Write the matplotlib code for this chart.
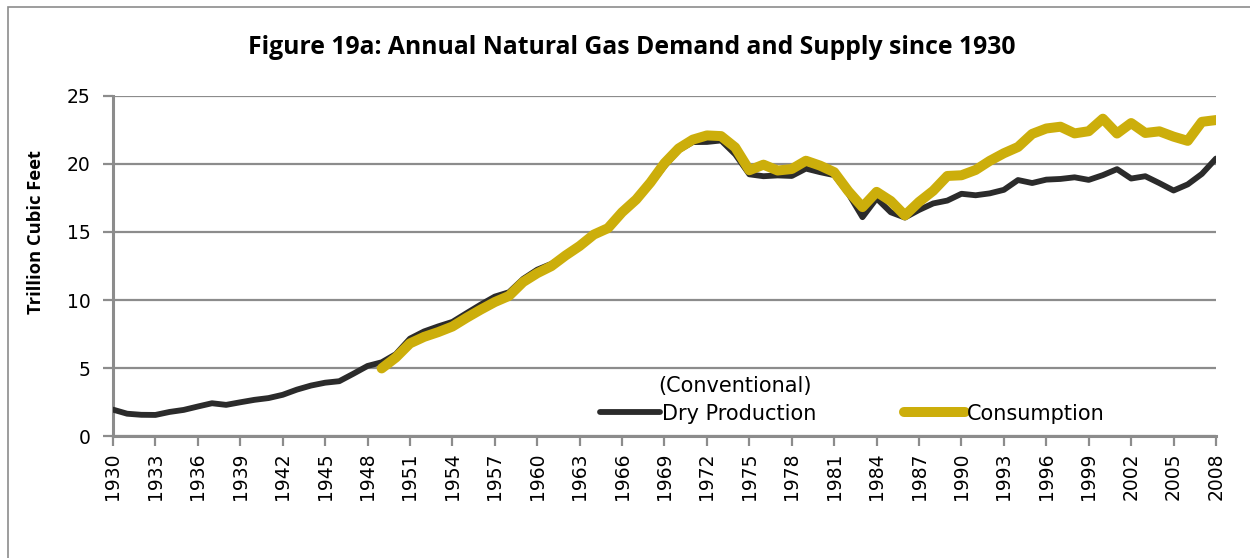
import numpy as np
import matplotlib
matplotlib.use("Agg")
import matplotlib.pyplot as plt
from matplotlib.patches import Rectangle

# Dry production (conventional), trillion cubic feet, 1930-2008
prod_years = list(range(1930, 2009))
dry_production = [
    1.94, 1.64, 1.56, 1.55, 1.77, 1.92, 2.17, 2.41, 2.29, 2.48,
    2.66, 2.79, 3.03, 3.41, 3.71, 3.92, 4.03, 4.58, 5.15, 5.42,
    6.02, 7.16, 7.69, 8.06, 8.39, 9.03, 9.66, 10.25, 10.57, 11.55,
    12.23, 12.66, 13.25, 14.08, 14.82, 15.29, 16.47, 17.39, 18.49, 19.83,
    21.01, 21.61, 21.62, 21.73, 20.71, 19.24, 19.10, 19.16, 19.12, 19.66,
    19.40, 19.18, 17.82, 16.09, 17.47, 16.45, 16.06, 16.62, 17.10, 17.31,
    17.81, 17.70, 17.84, 18.10, 18.82, 18.60, 18.85, 18.90, 19.02, 18.83,
    19.18, 19.62, 18.93, 19.10, 18.59, 18.05, 18.50, 19.27, 20.40,
]

# Consumption, trillion cubic feet, 1949-2008
cons_years = list(range(1949, 2009))
consumption = [
    4.97, 5.77, 6.81, 7.29, 7.64, 8.05, 8.69, 9.29, 9.85, 10.30,
    11.32, 11.97, 12.49, 13.27, 13.97, 14.81, 15.28, 16.45, 17.39, 18.63,
    20.06, 21.14, 21.79, 22.10, 22.05, 21.22, 19.54, 19.95, 19.52, 19.63,
    20.24, 19.88, 19.40, 18.00, 16.83, 17.95, 17.28, 16.22, 17.21, 18.03,
    19.12, 19.17, 19.56, 20.23, 20.79, 21.25, 22.21, 22.61, 22.74, 22.25,
    22.41, 23.33, 22.24, 23.01, 22.28, 22.40, 22.01, 21.70, 23.10, 23.23,
]

tick_years = list(range(1930, 2009, 3))
y_ticks = [0, 5, 10, 15, 20, 25]

DARK = "#2b2b2b"
GOLD = "#ccae0b"
GRID = "#8c8c8c"
TICK_FONT = "DejaVu Sans"

fig = plt.figure(figsize=(12.5, 5.58), dpi=100)
ax = fig.add_axes([0.0904, 0.2186, 0.8824, 0.6094])

# outer frame (open on the right/bottom like the clipped original)
fig.patches.append(Rectangle((0.0065, -0.05), 1.2, 1.037, transform=fig.transFigure,
                             fill=False, edgecolor="#8c8c8c", lw=1.2))

ax.plot(prod_years, dry_production, color=DARK, lw=4.2,
        solid_capstyle="round", solid_joinstyle="round",
        label="Dry Production", zorder=3)
ax.plot(cons_years, consumption, color=GOLD, lw=7.2,
        solid_capstyle="round", solid_joinstyle="round",
        label="Consumption", zorder=4)

ax.set_xlim(1930, 2008)
ax.set_ylim(0, 25)
ax.set_yticks(y_ticks)
ax.set_xticks(tick_years)
ax.set_xticklabels([str(y) for y in tick_years], rotation=90)
ax.yaxis.grid(True, color=GRID, lw=1.6)
ax.set_axisbelow(True)

for side in ["top", "right"]:
    ax.spines[side].set_visible(False)
for side in ["left", "bottom"]:
    ax.spines[side].set_color(GRID)
    ax.spines[side].set_linewidth(2.2)
ax.tick_params(axis="both", colors=GRID, width=1.6, length=7, labelcolor="black",
               labelsize=13.5)
ax.tick_params(axis="x", pad=5)
ax.tick_params(axis="y", pad=9)
for t in ax.get_xticklabels() + ax.get_yticklabels():
    t.set_fontfamily(TICK_FONT)

fig.text(0.029, 0.584, "Trillion Cubic Feet", rotation=90, ha="center", va="center",
         fontsize=13.2, fontweight="bold", fontfamily="Open Sans")

fig.text(0.505, 0.915, "Figure 19a: Annual Natural Gas Demand and Supply since 1930",
         ha="center", va="center", fontsize=17.8, fontweight="bold",
         fontfamily="Open Sans")

leg = ax.legend(loc="center left", bbox_to_anchor=(0.4415, 0.066), ncol=2, frameon=False,
                borderpad=0, borderaxespad=0,
                handlelength=2.9, handletextpad=0.1, columnspacing=4.2,
                prop={"family": TICK_FONT, "size": 15})
for line in leg.get_lines():
    line.set_solid_capstyle("round")
ax.text(0.564, 0.147, "(Conventional)", transform=ax.transAxes, ha="center",
        va="center", fontsize=15, fontfamily=TICK_FONT)

fig.savefig("out.png", dpi=100)
